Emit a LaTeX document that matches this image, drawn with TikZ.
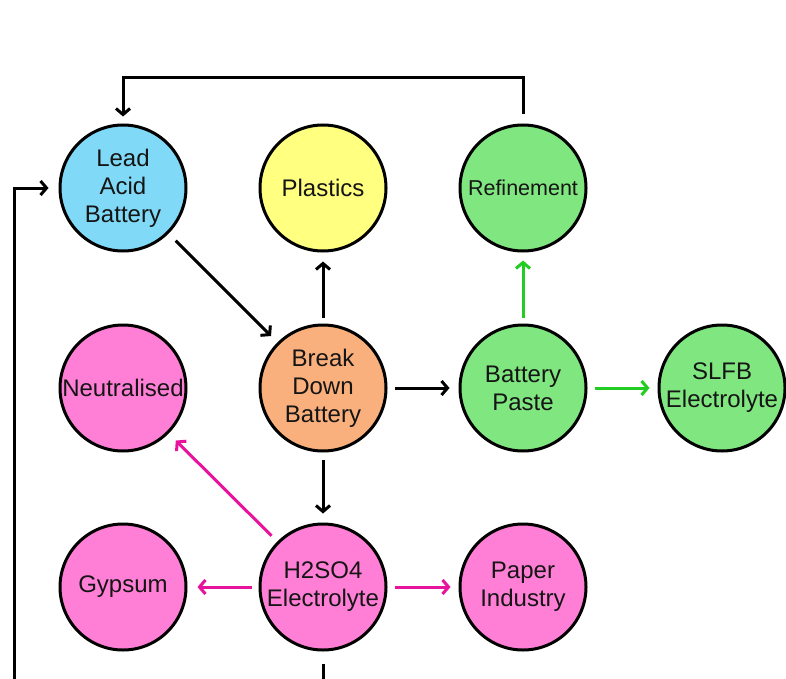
\documentclass[tikz,border=0pt]{standalone}
\usepackage{fontspec}
\setmainfont{Liberation Sans}
\usetikzlibrary{arrows.meta}
\definecolor{cblue}{HTML}{80D9F6}
\definecolor{cyellow}{HTML}{FFFF80}
\definecolor{cgreen}{HTML}{80E680}
\definecolor{corange}{HTML}{F9B07D}
\definecolor{cpink}{HTML}{FF7FD6}
\definecolor{amag}{HTML}{E8139C}
\definecolor{agreen}{HTML}{22CC22}
\definecolor{ctext}{HTML}{151515}
\tikzset{
  bub/.style={circle, draw=black, line width=3pt, minimum size=126pt, inner sep=0pt,
    align=center, text=ctext, font=\fontsize{24}{28}\selectfont},
  conn/.style={line width=3pt, -{Straight Barb[length=6pt,width=14pt]}},
  blk/.style={conn, draw=black},
  grn/.style={conn, draw=agreen},
  mag/.style={conn, draw=amag},
}
\begin{document}
\begin{tikzpicture}[x=1pt,y=-1pt]
\useasboundingbox (0,0) rectangle (786,679);
\fill[white] (0,0) rectangle (786,679);
\begin{scope}
\clip (0,0) rectangle (786,679);
\node[bub, fill=cblue] (lead) at (123,188) {Lead\\Acid\\Battery};
\node[bub, fill=cyellow] (plas) at (323,188) {Plastics};
\node[bub, fill=cgreen, font=\fontsize{21.5}{26}\selectfont] (ref) at (523,188) {Refinement};
\node[bub, fill=cpink] (neut) at (123,388) {Neutralised};
\node[bub, fill=corange] (bd) at (323,388) {Break\\Down\\Battery};
\node[bub, fill=cgreen] (paste) at (523,388) {Battery\\Paste};
\node[bub, fill=cgreen] (slfb) at (722,388) {SLFB\\Electrolyte};
\node[bub, fill=cpink] (gyp) at (123,587) {Gypsum};
\node[bub, fill=cpink] (h2) at (323,587) {H2SO4\\Electrolyte};
\node[bub, fill=cpink] (pap) at (523,587) {Paper\\Industry};

\coordinate (topline) at (0,78);
\coordinate (bl) at (14,682);
\coordinate (bm) at (323,682);

\draw[blk, shorten <=10pt, shorten >=9pt] (lead) -- (bd);
\draw[blk, shorten <=6pt, shorten >=9pt] (bd) -- (plas);
\draw[blk, shorten <=7pt, shorten >=9pt] (bd) -- (paste);
\draw[blk, shorten <=7pt, shorten >=9pt] (bd) -- (h2);
\draw[grn, shorten <=6pt, shorten >=8pt] (paste) -- (ref);
\draw[grn, shorten <=7pt, shorten >=8pt] (paste) -- (slfb);
\draw[mag, shorten <=8pt, shorten >=10pt] (h2) -- (neut);
\draw[mag, shorten <=7pt, shorten >=10pt] (h2) -- (gyp);
\draw[mag, shorten <=7pt, shorten >=8pt] (h2) -- (pap);
\draw[blk, shorten <=9pt, shorten >=7pt] (ref.north) -- (ref.north |- topline) -- (lead.north |- topline) -- (lead.north);
\draw[blk, shorten >=10pt] (bl) |- (lead.west);
\draw[line width=3pt] (bm) -- ([yshift=-12pt]h2.south);
\end{scope}
\end{tikzpicture}
\end{document}
